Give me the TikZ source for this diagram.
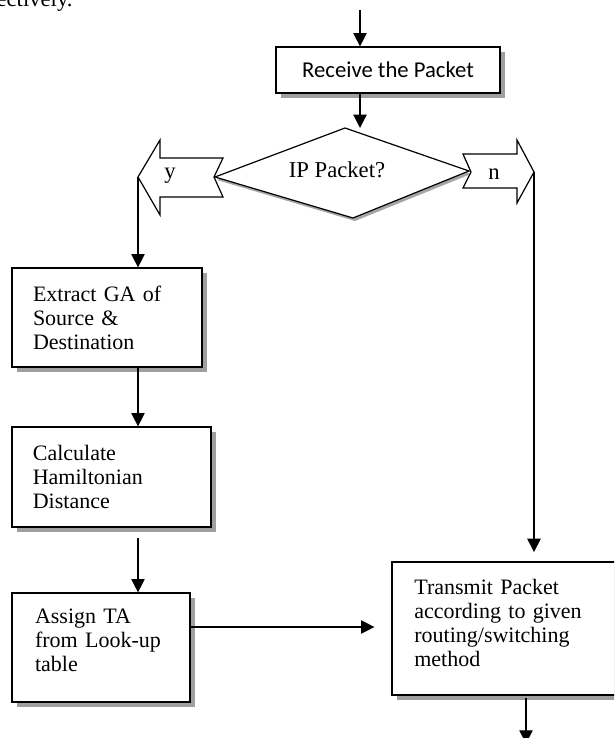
\documentclass[tikz,border=0pt]{standalone}
\usepackage{fontspec}
\setmainfont{Liberation Serif}
\newfontfamily\calibri{Carlito}
\usetikzlibrary{arrows.meta,shadows,calc}
\begin{document}
\begin{tikzpicture}[x=0.75pt,y=-0.75pt,
  line width=0.9pt,
  arr/.style={-{Triangle[width=10pt,length=10pt]}},
  shad/.style={drop shadow={shadow xshift=3.6pt,shadow yshift=-3.6pt,fill=gray!75,opacity=1}},
  box/.style={draw,fill=white,shad,inner xsep=0pt,inner ysep=0pt,align=left,
    font=\fontsize{16.5}{18}\selectfont},
  blockarrow/.style={draw,fill=white,line width=0.9pt,line join=miter},
  lbl/.style={font=\fontsize{17}{18}\selectfont,inner sep=0pt}
]
\clip (0,0) rectangle (614,738);
\fill[white] (0,0) rectangle (614,738);
\node[lbl,anchor=base west] (frag) at (-4,7) {ectively.};

% coordinates
\coordinate (start) at (360,10);
\coordinate (dT) at (345,128);
\coordinate (dL) at (215,177);
\coordinate (dR) at (469,171);
\coordinate (dB) at (353,218);
\coordinate (ytip) at (138,177);
\coordinate (ntip) at (534,172);
\coordinate (bx) at (526,0);
\coordinate (aty) at (0,627);

% boxes
\node[box,font=\calibri\fontsize{17}{18}\selectfont,align=center,minimum width=168pt,minimum height=34.5pt] (recv) at (388,70) {Receive the Packet};
\node[box,minimum width=142.5pt,minimum height=74.25pt,text width=111pt] (extract) at (107,317.5)
  {\mbox{Extract GA of}\\\mbox{Source \&}\\\mbox{Destination}};
\node[box,minimum width=149.25pt,minimum height=75pt,text width=118pt] (calc) at (111.5,477)
  {\mbox{Calculate}\\\mbox{Hamiltonian}\\\mbox{Distance}};
\node[box,minimum width=133.5pt,minimum height=81.75pt,text width=99pt] (assign) at (101,647.5)
  {\mbox{Assign TA}\\\mbox{from Look-up}\\\mbox{table}\\[-7.5pt]\mbox{}};
\node[box,minimum width=169.5pt,minimum height=99.75pt,text width=136pt] (transmit) at (505,628.5)
  {\mbox{Transmit Packet}\\\mbox{according to given}\\\mbox{routing/switching}\\\mbox{method}\\[-9pt]\mbox{}};

% diamond
\fill[gray!70] ($(dT)+(2,3)$) -- ($(dR)+(2,3)$) -- ($(dB)+(2,3)$) -- ($(dL)+(2,3)$) -- cycle;
\draw[fill=white,line join=miter] (dT) -- (dR) -- (dB) -- (dL) -- cycle;
\node[lbl] (ip) at (337,170) {IP Packet?};

% block arrows
\draw[blockarrow] (ytip) -- (160,140) -- (160,158) -- (223,158) -- (214,177) -- (223,197) -- (160,197) -- (160,215) -- cycle;
\node[lbl] (y) at (170,176) {y};
\draw[blockarrow] (463,154) -- (517,154) -- (517,140) -- (ntip) -- (517,203) -- (517,188) -- (463,188) -- (471,172) -- cycle;
\node[lbl] (n) at (494,174) {n};

% connectors
\draw[arr] (start) -- (start |- recv.north);
\draw[arr] (recv.south -| start) -- (start |- dT);
\draw[arr] (ytip) -- (ytip |- extract.north);
\draw[arr] (extract.south -| ytip) -- (calc.north -| ytip);
\draw[arr,shorten <=7.5pt] (calc.south -| ytip) -- (assign.north -| ytip);
\draw[arr,shorten >=12.75pt] (assign.east |- aty) -- (aty -| transmit.west);
\draw[arr,shorten >=7pt] (ntip) -- (ntip |- transmit.north);
\draw[arr,shorten <=2pt] (transmit.south -| bx) -- ++(0,48);
\end{tikzpicture}
\end{document}
